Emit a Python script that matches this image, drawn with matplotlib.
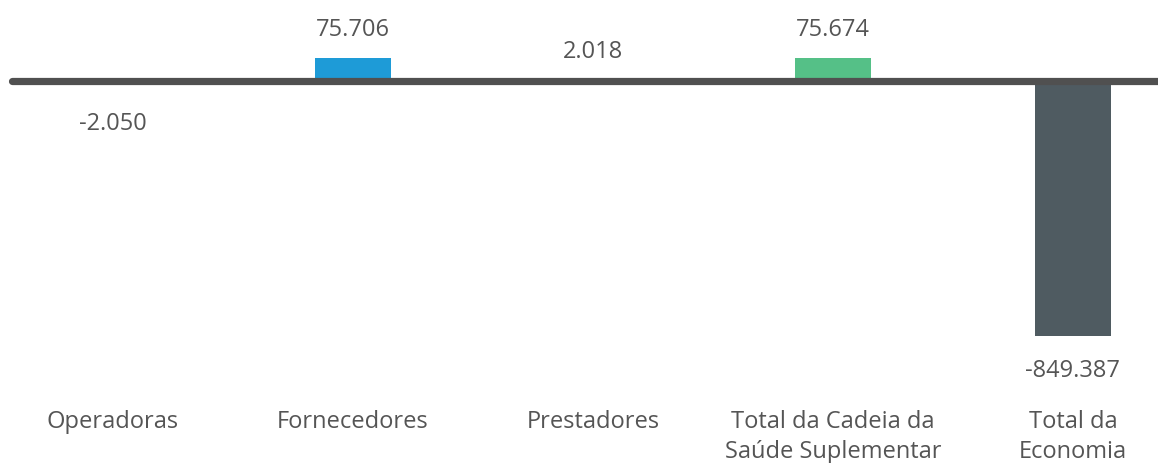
import matplotlib.pyplot as plt
import numpy as np

categories = ['Operadoras', 'Fornecedores', 'Prestadores',
              'Total da Cadeia da\nSaúde Suplementar', 'Total da\nEconomia']
values = [-2050, 75706, 2018, 75674, -849387]
labels = ['-2.050', '75.706', '2.018', '75.674', '-849.387']
colors = ['#1E9BD7', '#1E9BD7', '#1E9BD7', '#55C087', '#4F5B61']

plt.rcParams['font.family'] = ['Open Sans', 'DejaVu Sans']
text_color = '#555555'

fig = plt.figure(figsize=(11.58, 4.64), dpi=100)
ax = fig.add_axes([0, 0, 1, 1])

x = np.arange(len(categories))
ax.bar(x, values, width=76 / 240, color=colors, zorder=2)

# zero line
ax.plot([-0.42, 4.5], [0, 0], color='#505050', linewidth=5.2,
        solid_capstyle='round', zorder=3)

# value labels
for xi, v, lab in zip(x, values, labels):
    if v >= 0:
        ax.annotate(lab, (xi, v), xytext=(0, 21.1), textcoords='offset points',
                    ha='center', va='center', fontsize=17, color=text_color)
    else:
        ax.annotate(lab, (xi, min(v, -27000)), xytext=(0, -24.6), textcoords='offset points',
                    ha='center', va='center', fontsize=17, color=text_color)

# category labels
for xi, cat in zip(x, categories):
    ax.text(xi, -1093000, cat, ha='center', va='top', fontsize=17,
            color=text_color, linespacing=1.3)

px = 849387 / 255
ax.set_ylim(-(464 - 82) * px, 82 * px)
ax.set_xlim(-113 / 240, (1158 - 113) / 240)
ax.axis('off')

fig.savefig('out.png', dpi=100, facecolor='white')
